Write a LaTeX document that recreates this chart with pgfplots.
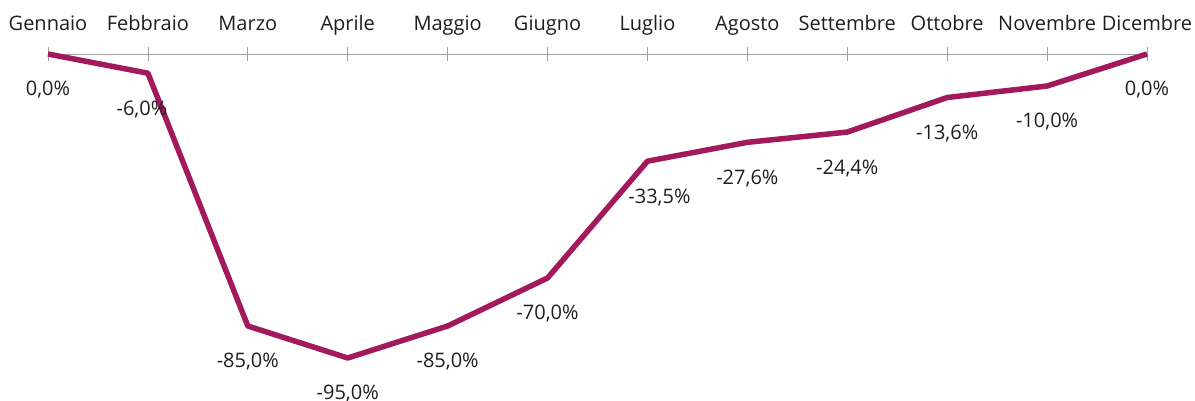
\documentclass[border=0pt]{standalone}
\usepackage{pgfplots}
\pgfplotsset{compat=1.18}
\usepackage{fontspec}
\setmainfont{Open Sans}
\definecolor{linec}{RGB}{162,26,92}
\definecolor{axc}{RGB}{160,160,160}
\definecolor{txt}{RGB}{30,30,30}
\begin{document}
\begin{tikzpicture}[x=1pt,y=1pt]
\begin{axis}[
  at={(0,0)}, anchor=south west,
  scale only axis, width=1099pt, height=304pt,
  xmin=0, xmax=11, ymin=-95, ymax=0,
  clip=false,
  axis x line=top,
  axis y line=none,
  axis line style={axc, line width=0.8pt, -},
  xtick={0,...,11},
  xticklabels={Gennaio,Febbraio,Marzo,Aprile,Maggio,Giugno,Luglio,Agosto,Settembre,Ottobre,Novembre,Dicembre},
  major tick length=14pt,
  tick align=center,
  tick style={axc, line width=0.8pt},
  xticklabel style={font=\fontsize{20}{22}\selectfont, text=txt, text depth=5pt, yshift=8pt},
  /pgf/number format/assume math mode=true,
  point meta=explicit,
  visualization depends on={\thisrow{dx}\as\dx},
  nodes near coords={\pgfmathprintnumber[fixed,fixed zerofill,precision=1,use comma]{\pgfplotspointmeta}\%},
  every node near coord/.style={anchor=center, yshift=-36pt, xshift=\dx pt, font=\fontsize{20}{22}\selectfont, text=txt},
]
\addplot[linec, line width=5.5pt, line join=round] table[x=x, y=y, meta=y] {
x y dx
0 0 0
1 -6 -6
2 -85 0
3 -95 0
4 -85 0
5 -70 0
6 -33.5 12
7 -27.6 0
8 -24.4 0
9 -13.6 0
10 -10 0
11 0 0
};
\end{axis}
\pgfresetboundingbox
\path (-48pt,-43pt) rectangle (1147pt,358pt);
\end{tikzpicture}
\end{document}
